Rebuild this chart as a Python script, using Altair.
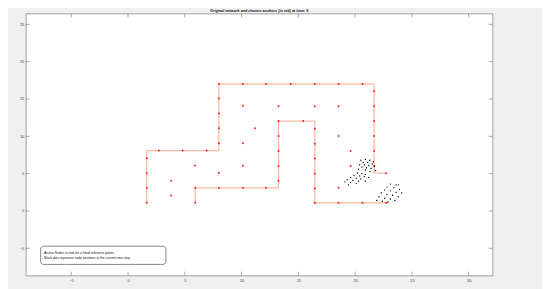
import altair as alt
import pandas as pd

# ---- data ----
x_ticks = [-5, 0, 5, 10, 15, 20, 25, 30]
y_ticks = [-5, 0, 5, 10, 15, 20, 25]
x_domain = [-9, 32.1]
y_domain = [-8.65, 26.45]

# network path polylines (vertices)
path1_x = [1.65, 1.65, 8.0, 8.0, 21.67, 21.67, 22.74]
path1_y = [1.1, 8.09, 8.09, 17.0, 17.0, 5.07, 5.07]
path2_x = [5.92, 5.92, 13.25, 13.25, 16.45, 16.45, 22.9]
path2_y = [1.1, 3.1, 3.1, 12.04, 12.04, 1.1, 1.1]

# anchors (red)
anchor_x = [1.65, 1.65, 1.65, 1.65, 2.72, 4.81, 6.93,
            8.0, 8.0, 8.0, 8.0, 8.0,
            10.12, 12.15, 14.33, 16.45, 18.54, 20.65,
            21.67, 21.67, 21.67, 21.67, 21.67, 21.67, 22.74,
            5.92, 5.92, 8.0, 10.12, 12.15,
            13.25, 13.25, 13.25, 13.25, 13.25, 15.43,
            16.45, 16.45, 16.45, 16.45, 16.45, 16.45,
            18.54, 20.65, 22.74,
            3.8, 3.8, 5.9, 8.0, 10.12, 10.12, 11.17, 10.12,
            13.25, 16.45, 18.54, 18.54, 19.6, 19.6, 18.54]
anchor_y = [1.1, 3.1, 5.07, 7.07, 8.09, 8.09, 8.09,
            9.07, 11.07, 13.07, 15.07, 17.0,
            17.0, 17.0, 17.0, 17.0, 17.0, 17.0,
            16.04, 14.04, 12.04, 10.04, 8.04, 6.04, 5.07,
            1.1, 3.1, 3.1, 3.1, 3.1,
            4.04, 6.04, 8.04, 10.04, 12.04, 12.04,
            11.02, 9.02, 7.02, 5.02, 3.02, 1.07,
            1.1, 1.1, 1.1,
            2.06, 4.06, 6.1, 5.08, 6.05, 9.07, 11.07, 14.09,
            14.04, 14.04, 14.04, 10.04, 8.04, 6.04, 3.1]

# current node positions (black)
node_x = [20.5, 20.9, 21.3, 21.6, 20.7, 21.1, 21.5, 20.4, 20.8, 21.2, 21.7, 20.6,
          21.0, 21.4, 20.3, 20.9, 21.8, 21.3,
          20.2, 20.6, 20.9, 19.9, 20.4, 20.8, 21.2, 19.6, 20.1, 20.5, 19.3, 19.8,
          20.3, 20.9, 19.1, 19.6, 20.1, 19.4,
          23.1, 23.8, 22.8, 23.4, 23.9, 22.6, 23.1, 23.6, 24.1, 22.3, 22.8, 23.3,
          23.8, 22.1, 22.6, 23.1, 21.9, 22.4, 22.9, 23.5, 23.6]
node_y = [6.8, 6.9, 6.8, 6.6, 6.5, 6.5, 6.3, 6.2, 6.2, 6.1, 6.0, 5.9,
          5.8, 5.7, 5.6, 5.5, 5.4, 5.3,
          5.1, 5.0, 4.9, 4.8, 4.7, 4.6, 4.5, 4.5, 4.4, 4.3, 4.2, 4.1,
          4.0, 4.0, 3.9, 3.8, 3.7, 3.5,
          3.6, 3.5, 3.2, 3.1, 2.9, 2.8, 2.7, 2.5, 2.4, 2.4, 2.2, 2.1,
          1.9, 1.9, 1.7, 1.6, 1.4, 1.3, 1.2, 1.4, 3.5]

title_text = "Original network and chosen anchors (in red) at time: 9"
legend_lines = ["- Anchor Nodes in red are a fixed reference points.",
                "- Black dots represent node positions at the current time step."]

# ---- layout ----
W, H = 472, 265
FONT = "Liberation Sans"

xs = alt.Scale(domain=x_domain, nice=False, zero=False)
ys = alt.Scale(domain=y_domain, nice=False, zero=False)
x_axis = alt.Axis(values=x_ticks, ticks=False, domain=False, grid=False,
                  labelFontSize=4, labelPadding=3, labelColor="#404040",
                  labelFont=FONT, title=None)
y_axis = alt.Axis(values=y_ticks, ticks=False, domain=False, grid=False,
                  labelFontSize=4, labelPadding=2, labelColor="#404040",
                  labelFont=FONT, title=None)


def X(field="x"):
    return alt.X(f"{field}:Q", scale=xs, axis=x_axis)


def Y(field="y"):
    return alt.Y(f"{field}:Q", scale=ys, axis=y_axis)


paths = pd.DataFrame({
    "x": path1_x + path2_x,
    "y": path1_y + path2_y,
    "path": ["p1"] * len(path1_x) + ["p2"] * len(path2_x),
    "i": list(range(len(path1_x))) + list(range(len(path2_x))),
})
anchors = pd.DataFrame({"x": anchor_x, "y": anchor_y})
nodes = pd.DataFrame({"x": node_x, "y": node_y})
xt = pd.DataFrame({"x": x_ticks})
yt = pd.DataFrame({"y": y_ticks})

tick_color = "#707070"
ticks_bottom = alt.Chart(xt).mark_rule(color=tick_color, strokeWidth=0.6).encode(
    x=X(), y=alt.value(H), y2=alt.value(H - 4))
ticks_top = alt.Chart(xt).mark_rule(color=tick_color, strokeWidth=0.6).encode(
    x=X(), y=alt.value(0), y2=alt.value(4))
ticks_left = alt.Chart(yt).mark_rule(color=tick_color, strokeWidth=0.6).encode(
    y=Y(), x=alt.value(0), x2=alt.value(4))
ticks_right = alt.Chart(yt).mark_rule(color=tick_color, strokeWidth=0.6).encode(
    y=Y(), x=alt.value(W), x2=alt.value(W - 4))

lines = alt.Chart(paths).mark_line(color="#f5bca4", strokeWidth=1.3).encode(
    x=X(), y=Y(), detail="path:N", order="i:Q")

anchor_pts = alt.Chart(anchors).mark_point(
    filled=True, color="#ff1a1a", size=4, opacity=1).encode(x=X(), y=Y())

node_pts = alt.Chart(nodes).mark_point(
    filled=True, color="#000000", size=2, opacity=1).encode(x=X(), y=Y())

legend_box = alt.Chart(pd.DataFrame({"k": [0]})).mark_rect(
    fill="white", stroke="#333333", strokeWidth=0.6, cornerRadius=3).encode(
    x=alt.value(15), x2=alt.value(141.7), y=alt.value(235.3), y2=alt.value(253.7))

legend_texts = []
for j, line in enumerate(legend_lines):
    legend_texts.append(
        alt.Chart(pd.DataFrame({"t": [line]})).mark_text(
            align="left", baseline="middle", fontSize=3.3, font=FONT, color="#111111").encode(
            x=alt.value(16.5), y=alt.value(242.0 + 5.2 * j), text="t:N"))

chart = alt.layer(
    lines, anchor_pts, node_pts,
    ticks_bottom, ticks_top, ticks_left, ticks_right,
    legend_box, *legend_texts,
).properties(
    width=W, height=H,
    title=alt.TitleParams(title_text, fontSize=3.8, fontWeight="bold", font=FONT,
                          color="#111111", anchor="middle", offset=0.5),
    background="#f0f0f0",
    padding={"left": 18, "top": 4, "right": 50, "bottom": 12},
    autosize=alt.AutoSizeParams(type="none"),
).configure_view(
    fill="white", stroke="#8a8a8a", strokeWidth=0.8,
)

chart.save("out.html", embed_options={"renderer": "svg", "actions": False})
